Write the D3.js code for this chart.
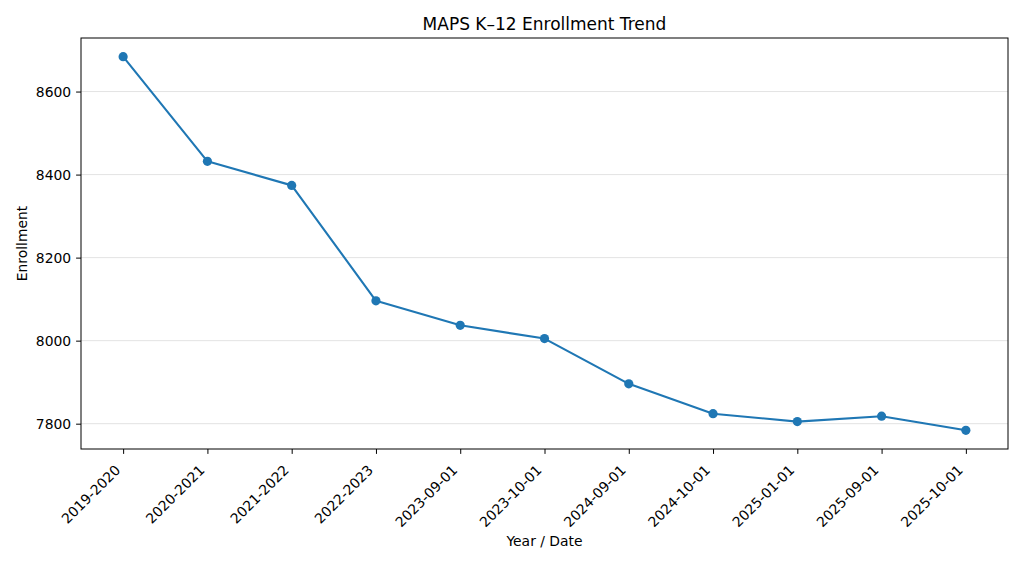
<!DOCTYPE html>
<html>
<head>
<meta charset="utf-8">
<script src="https://cdn.jsdelivr.net/npm/d3@7"></script>
<style>
  body { margin: 0; background: #fff; }
  text { font-family: "DejaVu Sans", sans-serif; fill: #000; }
</style>
</head>
<body>
<div id="container"></div>
<script>
/* DATA */
const periods = ["2019-2020", "2020-2021", "2021-2022", "2022-2023", "2023-09-01", "2023-10-01",
                 "2024-09-01", "2024-10-01", "2025-01-01", "2025-09-01", "2025-10-01"];
const enrollment = [8684, 8432, 8374, 8096, 8037, 8005, 7896, 7824, 7805, 7818, 7784];
const yTicks = [7800, 8000, 8200, 8400, 8600];

/* CONSTANTS */
const width = 1024, height = 563;
const margin = { top: 38, bottom: 114, left: 81, right: 16 };
const blue = "#1f77b4";

const data = periods.map((p, i) => ({ period: p, value: enrollment[i] }));

/* SCALES (matplotlib-style 5% padding) */
const xScale = d3.scaleLinear()
  .domain([-0.5, periods.length - 0.5])
  .range([margin.left, width - margin.right]);

const yMin = d3.min(enrollment), yMax = d3.max(enrollment), pad = (yMax - yMin) * 0.05;
const yScale = d3.scaleLinear()
  .domain([yMin - pad, yMax + pad])
  .range([height - margin.bottom, margin.top]);

const svg = d3.select("#container").append("svg")
  .attr("width", width)
  .attr("height", height);

/* GRID */
svg.append("g")
  .selectAll("line")
  .data(yTicks)
  .join("line")
  .attr("x1", margin.left).attr("x2", width - margin.right)
  .attr("y1", d => yScale(d)).attr("y2", d => yScale(d))
  .attr("stroke", "#e3e3e3")
  .attr("stroke-width", 1);

/* AXES */
const xAxis = d3.axisBottom(xScale)
  .tickValues(d3.range(periods.length))
  .tickSize(4.9)
  .tickFormat("");
svg.append("g")
  .attr("transform", `translate(0, ${height - margin.bottom})`)
  .call(xAxis)
  .call(g => g.select(".domain").remove())
  .call(g => g.selectAll("line").attr("stroke", "#000").attr("stroke-width", 1));

svg.append("g")
  .selectAll("text")
  .data(periods)
  .join("text")
  .attr("transform", (d, i) => `translate(${xScale(i) - 2}, ${height - margin.bottom + 22}) rotate(-45)`)
  .attr("text-anchor", "end")
  .style("font-size", "13.9px")
  .text(d => d);

const yAxis = d3.axisLeft(yScale)
  .tickValues(yTicks)
  .tickSize(4.9)
  .tickPadding(4.9)
  .tickFormat(d3.format("d"));
svg.append("g")
  .attr("transform", `translate(${margin.left}, 0)`)
  .call(yAxis)
  .call(g => g.select(".domain").remove())
  .call(g => g.selectAll("line").attr("stroke", "#000").attr("stroke-width", 1))
  .call(g => g.selectAll("text").style("font-size", "13.9px").attr("font-family", "DejaVu Sans").attr("fill", "#000"));

/* FRAME */
svg.append("rect")
  .attr("x", margin.left).attr("y", margin.top)
  .attr("width", width - margin.left - margin.right)
  .attr("height", height - margin.top - margin.bottom)
  .attr("fill", "none")
  .attr("stroke", "#000")
  .attr("stroke-width", 1);

/* LINE + MARKERS */
const line = d3.line()
  .x((d, i) => xScale(i))
  .y(d => yScale(d.value));

svg.append("path")
  .datum(data)
  .attr("d", line)
  .attr("fill", "none")
  .attr("stroke", blue)
  .attr("stroke-width", 2.1)
  .attr("stroke-linejoin", "round");

svg.selectAll(".dot")
  .data(data)
  .join("circle")
  .attr("class", "dot")
  .attr("cx", (d, i) => xScale(i))
  .attr("cy", d => yScale(d.value))
  .attr("r", 4.6)
  .attr("fill", blue);

/* LABELS */
svg.append("text")
  .attr("x", (margin.left + width - margin.right) / 2)
  .attr("y", 30)
  .attr("text-anchor", "middle")
  .style("font-size", "17px")
  .text("MAPS K\u201312 Enrollment Trend");

svg.append("text")
  .attr("x", (margin.left + width - margin.right) / 2)
  .attr("y", 546)
  .attr("text-anchor", "middle")
  .style("font-size", "13.9px")
  .text("Year / Date");

svg.append("text")
  .attr("transform", `translate(27, ${(margin.top + height - margin.bottom) / 2}) rotate(-90)`)
  .attr("text-anchor", "middle")
  .style("font-size", "13.9px")
  .text("Enrollment");
</script>
</body>
</html>
